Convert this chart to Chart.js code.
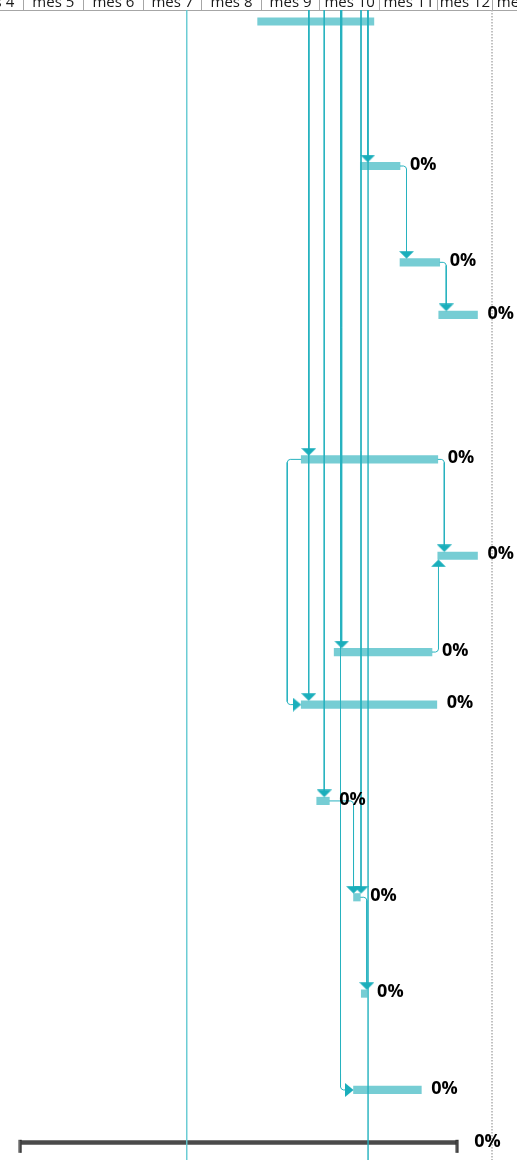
<!DOCTYPE html>
<html><head><meta charset="utf-8">
<script src="https://cdn.jsdelivr.net/npm/chart.js@4/dist/chart.umd.min.js"></script>
<style>html,body{margin:0;padding:0;background:#fff;overflow:hidden}#wrap{position:relative;width:517px;height:1160px}</style>
</head><body><div id="wrap"><canvas id="c"></canvas></div>
<script>
// ---- timescale: days counted from the start of "mes 5" ----
const monthLabels = ['mes 4','mes 5','mes 6','mes 7','mes 8','mes 9','mes 10','mes 11','mes 12','mes 13'];
const monthDays   = [31, 31, 31, 30, 31, 30, 31, 30, 28, 31];
const firstMonthStart = -31;
const viewStart = -12.03;
const viewEnd = 254.9;

// ---- tasks (one per table row) ----
const taskStart    = [121, 174, 194.5, 214.5, 143.5, 214, 160.5, 143.5, 151.5, 170.5, 174.5, 170.5];
const taskEnd      = [181, 194.5, 215, 234.5, 214, 234.5, 211, 213.5, 158, 174, 177.5, 205.5];
const taskProgress = [null, 0, 0, 0, 0, 0, 0, 0, 0, 0, 0, 0];
// table row heights, in text lines (last entry = project summary row)
const rowLines = [3.3, 2.2, 1.2, 3.3, 2.2, 2.2, 1.2, 2.2, 2.2, 2.2, 2.2, 1.2, 1.2];
// project summary
const projectStart = -1.5;
const projectEnd = 224;
const projectProgress = 0;
// dependency links (null = predecessor outside the visible area)
const linkFrom = [null, 1, 2, null, 4, 6, null, null, 4, null, 8, null, 9, null];
const linkTo   = [1, 2, 3, 4, 5, 5, 6, 7, 7, 8, 9, 9, 10, 11];
const linkType = ['FS','FS','FS','FS','FS','FS','FS','FS','SS','FS','FS','FS','FS','SS'];
// vertical markers
const statusDays = [84.4, 178];
const deadlineDay = 242;

// ---- derived helpers ----
const monthBounds = [];
const monthCenters = [];
{ let s = firstMonthStart; monthDays.forEach(d => { monthBounds.push(s); monthCenters.push(s + d / 2); s += d; }); monthBounds.push(s); }
const rowY = []; { let acc = 0; rowLines.forEach(l => { rowY.push(acc); acc += l; }); }
const HEADER_H = 10;
const W = 517, H = 1160;
const yMin = -0.2626, yMax = 26.0;
const PX_PER_DAY = W / (viewEnd - viewStart);
const PX_PER_ROW = (H - HEADER_H) / (yMax - yMin);
const dx = px => px / PX_PER_DAY;
const dy = px => px / PX_PER_ROW;
const BAR_H = 7.5;
const hb = dy(BAR_H / 2);
const CORNER = 3; // px, rounded look of connector corners

const BAR_COLOR = '#76CDD4';
const LINK_COLOR = '#27B2BF';
const ARROW_COLOR = '#1AAEBB';

function makeArrow(dir) {
  const c = document.createElement('canvas');
  if (dir === 'right') { c.width = 17; c.height = 14; } else { c.width = 15; c.height = 23; }
  const g = c.getContext('2d');
  g.fillStyle = ARROW_COLOR;
  g.beginPath();
  if (dir === 'down') { g.moveTo(0, 0.25); g.lineTo(15, 0.25); g.lineTo(7.5, 7.75); }
  else if (dir === 'up') { g.moveTo(0, 22.75); g.lineTo(15, 22.75); g.lineTo(7.5, 15.25); }
  else { g.moveTo(0, 0); g.lineTo(8.5, 7); g.lineTo(0, 14); }
  g.closePath(); g.fill();
  return c;
}
function makeCap() {
  const c = document.createElement('canvas');
  c.width = 4; c.height = 21;
  const g = c.getContext('2d');
  g.fillStyle = '#2e2e2e';
  g.fillRect(0.5, 7.8, 3, 13);
  g.fillStyle = '#5a5a5a';
  g.fillRect(1.5, 8.8, 1, 11);
  return c;
}
const arrowImg = { down: makeArrow('down'), up: makeArrow('up'), right: makeArrow('right') };

// soften the right-angle corners of a connector path
function soften(pts) {
  const out = [pts[0]];
  for (let i = 1; i < pts.length - 1; i++) {
    const p = pts[i], a = pts[i - 1], b = pts[i + 1];
    const ux = Math.sign(a.x - p.x) * dx(CORNER), uy = Math.sign(a.y - p.y) * dy(CORNER);
    const vx = Math.sign(b.x - p.x) * dx(CORNER), vy = Math.sign(b.y - p.y) * dy(CORNER);
    out.push({x: p.x + ux, y: p.y + uy});
    out.push({x: p.x + ux * 0.3 + vx * 0.3, y: p.y + uy * 0.3 + vy * 0.3});
    out.push({x: p.x + vx, y: p.y + vy});
  }
  out.push(pts[pts.length - 1]);
  return out;
}

// ---- connectors built from the links ----
const linkSets = [];
const arrowPts = [];
const arrowStyles = [];
linkFrom.forEach((from, k) => {
  const to = linkTo[k];
  const yt = rowY[to];
  const pts = [];
  if (linkType[k] === 'SS') {
    if (from === null) {
      const hx = taskStart[to] - dx(13);
      pts.push({x: hx, y: yMin}, {x: hx, y: yt}, {x: taskStart[to] - dx(8), y: yt});
    } else {
      const hx = Math.min(taskStart[from], taskStart[to]) - dx(14);
      pts.push({x: taskStart[from], y: rowY[from]}, {x: hx, y: rowY[from]}, {x: hx, y: yt}, {x: taskStart[to] - dx(8), y: yt});
    }
    arrowPts.push({x: taskStart[to], y: yt});
    arrowStyles.push(arrowImg.right);
  } else {
    let vx, down = true;
    if (from === null) {
      vx = taskStart[to] + dx(7.5);
      pts.push({x: vx, y: yMin});
    } else {
      vx = Math.max(taskEnd[from] + dx(6.5), taskStart[to]);
      down = rowY[to] > rowY[from];
      pts.push({x: taskEnd[from], y: rowY[from]}, {x: vx, y: rowY[from]});
    }
    pts.push({x: vx, y: down ? yt - hb - dy(3) : yt + hb + dy(3)});
    arrowPts.push({x: vx, y: yt});
    arrowStyles.push(down ? arrowImg.down : arrowImg.up);
  }
  linkSets.push({
    type: 'line', data: soften(pts), borderColor: LINK_COLOR, borderWidth: 1, pointRadius: 0,
    fill: false, tension: 0, order: 5
  });
});

const markerSets = statusDays.map((d, i) => ({
  type: 'line', data: [{x: d, y: yMin}, {x: d, y: yMax}],
  borderColor: i === 0 ? '#63C9D2' : '#22B1BE', borderWidth: 1.4, pointRadius: 0, fill: false, order: 6
}));
markerSets.push({
  type: 'line', data: [{x: deadlineDay, y: yMin}, {x: deadlineDay, y: yMax}],
  borderColor: '#b3b3b3', borderWidth: 1.6, borderDash: [1.6, 1.4], pointRadius: 0, fill: false, order: 6
});

const progressLabels = {
  id: 'progressLabels',
  afterDatasetsDraw(chart) {
    const {ctx, scales: {x, y}} = chart;
    ctx.save();
    ctx.font = '700 18px "Open Sans"';
    ctx.fillStyle = '#000';
    ctx.textBaseline = 'middle';
    ctx.textAlign = 'left';
    taskProgress.forEach((p, i) => {
      if (p === null) return;
      ctx.fillText(p + '%', x.getPixelForValue(taskEnd[i]) + 10, y.getPixelForValue(rowY[i]) - 1.5);
    });
    ctx.fillText(projectProgress + '%', x.getPixelForValue(projectEnd) + 17, y.getPixelForValue(rowY[rowY.length - 1]) - 1);
    ctx.restore();
  }
};

const capImg = makeCap();
new Chart(document.getElementById('c'), {
  type: 'bar',
  data: {
    datasets: [
      {
        type: 'bar', indexAxis: 'y', label: 'tasks',
        data: taskStart.map((s, i) => ({x: [s, taskEnd[i]], y: rowY[i]})),
        backgroundColor: BAR_COLOR, borderWidth: 0, borderSkipped: false,
        barThickness: BAR_H, grouped: false, order: 10
      },
      {
        type: 'bar', indexAxis: 'y', label: 'project',
        data: [{x: [projectStart, projectEnd], y: rowY[rowY.length - 1]}],
        backgroundColor: '#4a4a4a', borderWidth: 0, borderSkipped: false,
        barThickness: 4, grouped: false, order: 9
      },
      {
        type: 'line', showLine: false, label: 'caps',
        data: [{x: projectStart, y: rowY[rowY.length - 1]}, {x: projectEnd, y: rowY[rowY.length - 1]}],
        pointStyle: capImg, pointRadius: 6, order: 8
      },
      ...linkSets,
      {
        type: 'line', showLine: false, label: 'arrows',
        data: arrowPts, pointStyle: arrowStyles, pointRadius: 8, order: 4
      },
      ...markerSets
    ]
  },
  options: {
    responsive: true, maintainAspectRatio: false, animation: false, events: [],
    layout: {padding: 0, autoPadding: false},
    plugins: {legend: {display: false}, tooltip: {enabled: false}, title: {display: false}},
    scales: {
      x: {
        type: 'linear', position: 'top', min: viewStart, max: viewEnd, offset: false, weight: 0,
        afterBuildTicks: s => { s.ticks = monthBounds.map(v => ({value: v})); },
        afterFit: s => { s.height = HEADER_H; s.paddingLeft = 0; s.paddingRight = 0; },
        ticks: {display: false},
        grid: {offset: false, drawOnChartArea: false, drawTicks: true, tickLength: HEADER_H, color: '#a6a6a6', lineWidth: 1},
        border: {display: true, color: '#a6a6a6', width: 1}
      },
      x2: {
        type: 'linear', position: 'top', min: viewStart, max: viewEnd, offset: false, weight: 1,
        afterBuildTicks: s => { s.ticks = monthCenters.map(v => ({value: v})); },
        afterFit: s => { s.height = 0; s.paddingLeft = 0; s.paddingRight = 0; },
        ticks: {autoSkip: false, mirror: true, maxRotation: 0, minRotation: 0, padding: -5.8, color: '#1a1a1a',
          font: {family: 'Open Sans', size: 15}, callback: (v, i) => monthLabels[i]},
        grid: {display: false, drawTicks: false}, border: {display: false}
      },
      y: {type: 'linear', display: false, reverse: true, min: yMin, max: yMax, offset: false, grace: 0, beginAtZero: false}
    }
  },
  plugins: [progressLabels]
});
</script></body></html>
